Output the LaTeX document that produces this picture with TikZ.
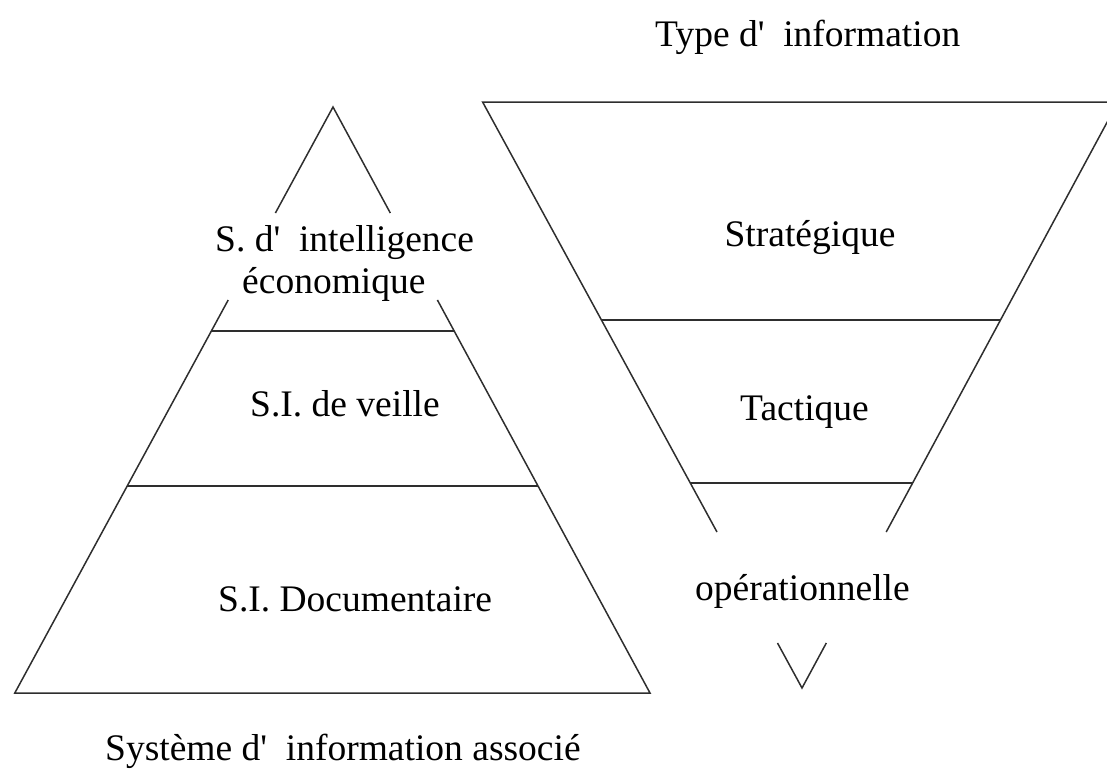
\documentclass[tikz,border=0pt]{standalone}
\usepackage{fontspec}
\setmainfont{Liberation Serif}
\begin{document}
\frenchspacing
\begin{tikzpicture}[x=1pt,y=-1pt,
  edge/.style={draw=black!82,line width=1.5pt},
  label/.style={inner sep=0pt,anchor=base west,font=\fontsize{37.5}{45}\selectfont}]
\useasboundingbox (0,0) rectangle (1107,774);
\clip (0,0) rectangle (1107,774);
\newcommand{\apos}{\textquotesingle}

% left pyramid (systems), apex at (333,107)
\coordinate (la) at (333,107);
\coordinate (lul) at (275.4,213);
\coordinate (lur) at (390.3,213);
\coordinate (lml) at (228.2,300);
\coordinate (lmr) at (437.4,300);
\coordinate (l1l) at (211.7,331);
\coordinate (l1r) at (454.2,331);
\coordinate (l2l) at (127.2,486);
\coordinate (l2r) at (538.0,486);
\coordinate (lbl) at (14.8,693);
\coordinate (lbr) at (650.0,693);
\draw[edge] (lul) -- (la) -- (lur);
\draw[edge] (lml) -- (lbl) -- (lbr) -- (lmr);
\draw[edge] (l1l) -- (l1r);
\draw[edge] (l2l) -- (l2r);

% inverted pyramid (information types), apex at (802,688)
\coordinate (rtl) at (482.6,102);
\coordinate (rtr) at (1118,102);
\coordinate (rll) at (717,532);
\coordinate (rlr) at (886.2,532);
\coordinate (r1l) at (601.4,320);
\coordinate (r1r) at (1000.7,320);
\coordinate (r2l) at (690.3,483);
\coordinate (r2r) at (912.7,483);
\coordinate (rvl) at (777.5,643);
\coordinate (rvr) at (826.3,643);
\coordinate (rv) at (802,688);
\draw[edge] (rll) -- (rtl) -- (rtr) -- (rlr);
\draw[edge] (r1l) -- (r1r);
\draw[edge] (r2l) -- (r2r);
\draw[edge] (rvl) -- (rv) -- (rvr);

% texts
\node[label] (ttype) at (655,46) {Type d\apos\ \ information};
\node[label,anchor=base] (tstrat) at (810,246) {Stratégique};
\node[label] (ttact) at (740,420) {Tactique};
\node[label] (toper) at (695,600) {opérationnelle};
\node[label] (tintel) at (215,251) {S. d\apos\ \ intelligence};
\node[label] (teco) at (242,293) {économique};
\node[label] (tveille) at (250,416) {S.I. de veille};
\node[label] (tdoc) at (218,611) {S.I. Documentaire};
\node[label] (tsys) at (105,760) {Système d\apos\ \ information associé};
\end{tikzpicture}
\end{document}
